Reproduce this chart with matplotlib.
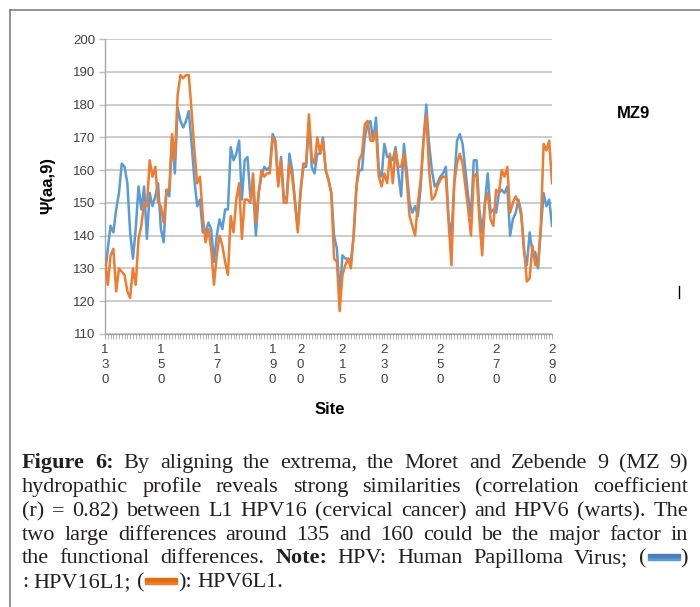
import numpy as np
import matplotlib
matplotlib.use("Agg")
import matplotlib.pyplot as plt
from matplotlib.lines import Line2D
from matplotlib.patches import Rectangle

# sites along L1 and the MZ9 hydropathic profile values
sites = np.arange(130, 291)

hpv16l1 = [128, 136, 143, 141, 148, 153, 162, 161, 156, 141,
           133, 142, 155, 148, 155, 139, 153, 149, 152, 156,
           142, 138, 154, 152, 170, 159, 179, 175, 173, 175,
           178, 168, 157, 149, 151, 141, 141, 144, 142, 132,
           140, 145, 142, 148, 148, 167, 163, 165, 169, 151,
           163, 164, 152, 154, 140, 153, 158, 161, 160, 161,
           171, 169, 156, 164, 152, 151, 165, 160, 151, 142,
           153, 161, 161, 175, 161, 159, 165, 165, 170, 160,
           157, 153, 140, 136, 122, 134, 133, 133, 132, 140,
           155, 160, 160, 170, 174, 175, 169, 176, 160, 158,
           168, 164, 164, 163, 167, 159, 152, 168, 160, 150,
           147, 149, 146, 155, 169, 180, 168, 160, 155, 156,
           158, 159, 161, 145, 140, 156, 169, 171, 168, 160,
           152, 146, 163, 163, 148, 141, 150, 159, 147, 148,
           147, 153, 154, 153, 155, 140, 145, 147, 151, 147,
           135, 131, 141, 135, 135, 130, 142, 153, 149, 151,
           143]

hpv6l1 = [133, 125, 134, 136, 123, 130, 129, 128, 123, 121,
          130, 125, 139, 143, 150, 149, 163, 158, 161, 150,
          149, 144, 154, 154, 171, 163, 183, 189, 188, 189,
          189, 178, 166, 156, 158, 146, 138, 142, 136, 125,
          134, 140, 137, 132, 128, 146, 141, 151, 156, 139,
          151, 151, 150, 159, 144, 153, 160, 158, 159, 159,
          170, 168, 155, 163, 150, 150, 162, 158, 150, 141,
          154, 162, 162, 177, 164, 162, 170, 165, 169, 160,
          157, 153, 133, 132, 117, 128, 131, 133, 130, 140,
          155, 163, 165, 174, 175, 169, 169, 172, 158, 155,
          159, 156, 165, 156, 166, 161, 161, 165, 157, 146,
          143, 140, 150, 157, 169, 177, 160, 151, 152, 155,
          157, 158, 158, 144, 131, 156, 162, 165, 162, 155,
          148, 140, 158, 159, 145, 134, 150, 153, 145, 143,
          154, 153, 160, 158, 161, 147, 150, 152, 150, 146,
          136, 126, 127, 137, 131, 131, 143, 168, 166, 169,
          156]

tick_sites = [130, 150, 170, 190, 200, 215, 230, 250, 270, 290]
y_ticks = list(range(110, 201, 10))

W, H = 700, 607
blue = '#5B9BD5'
orange = '#ED7D31'


def fx(x):
    return x / W


def fy(y):
    return 1 - y / H


fig = plt.figure(figsize=(W / 100, H / 100), dpi=100)
ax = fig.add_axes([fx(105), fy(334), (552 - 105) / W, (334 - 39) / H])

ax.plot(sites, hpv16l1, color=blue, lw=1.8, zorder=3)
ax.plot(sites, hpv6l1, color=orange, lw=1.8, zorder=3)

ax.set_xlim(130, 290)
ax.set_ylim(110, 200)
ax.set_yticks(y_ticks)
ax.set_yticklabels([str(v) for v in y_ticks], fontsize=9.5,
                   family='Liberation Sans', color='#404040')
ax.yaxis.grid(True, color='#BFBFBF', lw=1.1)
ax.set_axisbelow(True)

ax.set_xticks(tick_sites)
ax.set_xticklabels(['\n'.join(str(s)) for s in tick_sites], fontsize=9.5,
                   family='Liberation Sans', color='#404040',
                   linespacing=1.3, va='top')
ax.set_xticks(sites, minor=True)
ax.tick_params(axis='x', which='both', length=3.5, width=0.6,
               color='#A6A6A6', pad=4)
ax.tick_params(axis='y', length=4, width=1, color='#BFBFBF', pad=3)

for side in ['top', 'right']:
    ax.spines[side].set_visible(False)
ax.spines['left'].set_color('#A6A6A6')
ax.spines['bottom'].set_color('#A6A6A6')
ax.spines['left'].set_linewidth(1.0)
ax.spines['bottom'].set_linewidth(1.0)

fig.text(fx(330), fy(410), 'Site', fontsize=12, weight='bold',
         family='Liberation Sans', ha='center', va='center')
fig.text(fx(48), fy(186), 'Ψ(aa,9)', fontsize=12, weight='bold',
         family='Liberation Sans', ha='center', va='center', rotation=90)
fig.text(fx(633), fy(113), 'MZ9', fontsize=12, weight='bold',
         family='Liberation Sans', ha='center', va='center')

# frame of the figure panel
fig.add_artist(Line2D([fx(10), 1], [fy(10), fy(10)], color='#808080', lw=1.2))
fig.add_artist(Line2D([fx(10), fx(10)], [fy(10), 0], color='#808080', lw=1.2))
fig.add_artist(Line2D([fx(679), fx(679)], [fy(286), fy(298)], color='black', lw=1))

# caption, justified by hand
cap_size = 16
cap_font = 'Liberation Serif'
x0, x1 = 22, 688
sw_w = 34

caption = [
    ([[('Figure', 'bold')], [('6:', 'bold')], [('By', 'normal')], [('aligning', 'normal')],
      [('the', 'normal')], [('extrema,', 'normal')], [('the', 'normal')], [('Moret', 'normal')],
      [('and', 'normal')], [('Zebende', 'normal')], [('9', 'normal')], [('(MZ', 'normal')],
      [('9)', 'normal')]], True),
    ([[(w, 'normal')] for w in 'hydropathic profile reveals strong similarities (correlation coefficient'.split()], True),
    ([[(w, 'normal')] for w in '(r) = 0.82) between L1 HPV16 (cervical cancer) and HPV6 (warts).  The'.split()], True),
    ([[(w, 'normal')] for w in 'two large differences around 135 and 160 could be the major factor in'.split()], True),
    ([[(w, 'normal')] for w in 'the functional differences.'.split()]
     + [[('Note:', 'bold')]]
     + [[(w, 'normal')] for w in 'HPV: Human Papilloma Virus;'.split()]
     + [[('(', 'normal'), ('SW', blue), (')', 'normal')]], True),
    ([[(':', 'normal')], [('HPV16L1;', 'normal')], [('(', 'normal'), ('SW', orange), ('):', 'normal')],
      [('HPV6L1.', 'normal')]], False),
]
baselines = [468, 492, 516, 540, 563, 587]

renderer = fig.canvas.get_renderer()
space_t = fig.text(0, 0, 'a a', fontsize=cap_size, family=cap_font)
aa_t = fig.text(0, 0, 'aa', fontsize=cap_size, family=cap_font)
space_w = (space_t.get_window_extent(renderer).width
           - aa_t.get_window_extent(renderer).width)
space_t.remove()
aa_t.remove()

for (words, justify), base in zip(caption, baselines):
    placed = []
    for word in words:
        segs = []
        for txt, style in word:
            if txt == 'SW':
                segs.append(('SW', style, sw_w))
            else:
                t = fig.text(0, fy(base), txt, fontsize=cap_size, family=cap_font,
                             weight=style, va='baseline', ha='left', color='#231f20')
                segs.append((t, None, t.get_window_extent(renderer).width))
        placed.append(segs)
    widths = [sum(s[2] for s in segs) for segs in placed]
    if justify:
        gap = (x1 - x0 - sum(widths)) / (len(placed) - 1)
    else:
        gap = space_w
    x = x0
    for segs in placed:
        for obj, col, w in segs:
            if obj == 'SW':
                dark = '#4A7EBB' if col == blue else '#E46C0A'
                fig.add_artist(Rectangle((fx(x + 1), fy(base - 3)), (w - 2) / W, 3 / H,
                                         color=col, transform=fig.transFigure))
                fig.add_artist(Rectangle((fx(x + 1), fy(base - 6)), (w - 2) / W, 3 / H,
                                         color=dark, transform=fig.transFigure))
            else:
                obj.set_x(fx(x))
            x += w
        x += gap

fig.savefig('out.png', dpi=100)
